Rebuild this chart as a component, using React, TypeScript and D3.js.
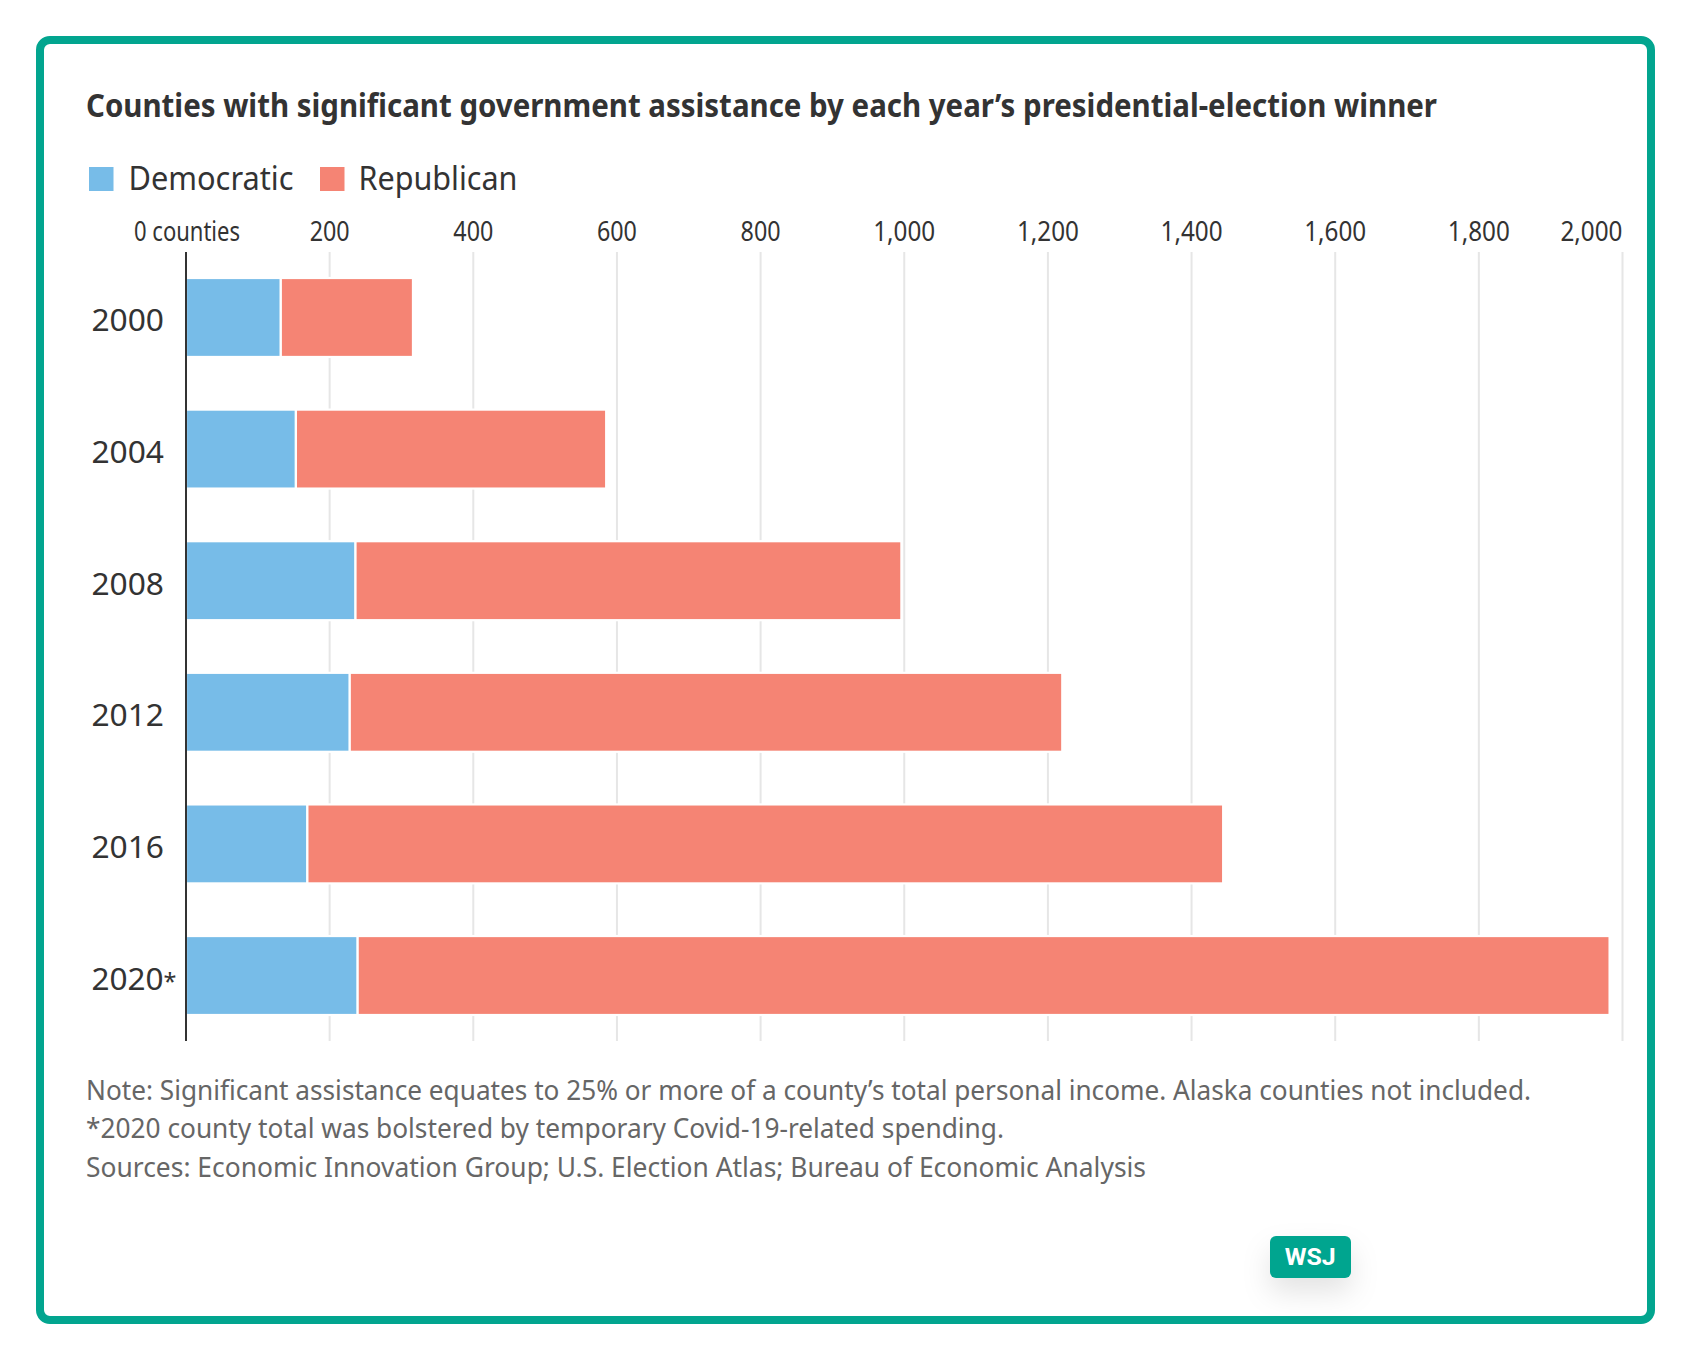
import React from "react";
import * as d3 from "d3";

const years = ["2000", "2004", "2008", "2012", "2016", "2020*"];
const democratic = [132, 153, 236, 228, 169, 239];
const republican = [184, 432, 760, 992, 1275, 1743];
const tickValues = [0, 200, 400, 600, 800, 1000, 1200, 1400, 1600, 1800, 2000];
const seriesNames = ["Democratic", "Republican"];
const seriesColors = ["#77BCE8", "#F58474"];
const titleText = "Counties with significant government assistance by each year\u2019s presidential-election winner";
const noteLines = [
  "Note: Significant assistance equates to 25% or more of a county\u2019s total personal income. Alaska counties not included.",
  "*2020 county total was bolstered by temporary Covid-19-related spending.",
  "Sources: Economic Innovation Group; U.S. Election Atlas; Bureau of Economic Analysis",
];
const noteWidths = [1445, 918, 1060];
const noteBaselines = [1100, 1138, 1177];

const FONT = "'Noto Sans', sans-serif";
const rows = years.map((y, i) => ({ year: y, Democratic: democratic[i], Republican: republican[i] }));

export default function App() {
  const x = d3.scaleLinear().domain([0, 2000]).range([186, 1622.5]);
  const y = d3.scaleBand().domain(years).range([278, 1015]).paddingInner(0.4);
  const stack = d3.stack().keys(seriesNames)(rows as any);
  const fmt = d3.format(",");
  const tickLabel = (v: number) => (v === 0 ? "0 counties" : fmt(v));

  return (
    <svg
      width={1691}
      height={1360}
      viewBox="0 0 1691 1360"
      style={{ position: "absolute", left: 0, top: 0, background: "#fff" }}
      fontFamily={FONT}
    >
      <defs>
        <filter id="badgeShadow" x="-80%" y="-80%" width="260%" height="400%">
          <feDropShadow dx="0" dy="14" stdDeviation="14" floodColor="#000" floodOpacity="0.11" />
        </filter>
      </defs>
      <rect x={40} y={40} width={1611} height={1280} rx={10} fill="#fff" stroke="#02A58F" strokeWidth={8} />

      <text x={86} y={117} fontSize={33} fontWeight={700} fill="#333" textLength={1351} lengthAdjust="spacingAndGlyphs">
        {titleText}
      </text>

      {seriesNames.map((name, i) => {
        const sx = [89, 320][i];
        const tx = [128.5, 358.5][i];
        const tw = [165, 159][i];
        return (
          <g key={name}>
            <rect x={sx} y={167} width={24.5} height={24} fill={seriesColors[i]} />
            <text x={tx} y={190} fontSize={32} fill="#333" textLength={tw} lengthAdjust="spacingAndGlyphs">
              {name}
            </text>
          </g>
        );
      })}

      {tickValues.map((v) => (
        <g key={v}>
          {v !== 0 && <line x1={x(v)} x2={x(v)} y1={252} y2={1041} stroke="#e6e6e6" strokeWidth={2} />}
          <text
            x={v === 2000 ? x(v) : x(v) + (v === 0 ? 1 : 0)}
            y={241}
            fontSize={28}
            fill="#333"
            textAnchor={v === 2000 ? "end" : "middle"}
            textLength={v === 0 ? 106 : v >= 1000 ? 62 : 40}
            lengthAdjust="spacingAndGlyphs"
          >
            {tickLabel(v)}
          </text>
        </g>
      ))}

      {stack.map((s: any, i: number) => (
        <g key={s.key}>
          {s.map((d: any) => (
            <rect
              key={d.data.year}
              x={x(d[0])}
              y={y(d.data.year)}
              width={x(d[1]) - x(d[0])}
              height={y.bandwidth()}
              fill={seriesColors[i]}
              stroke="#fff"
              strokeWidth={2.2}
            />
          ))}
        </g>
      ))}

      <line x1={x(0)} x2={x(0)} y1={252} y2={1041} stroke="#333" strokeWidth={2} />

      {years.map((yr) => (
        <text
          key={yr}
          x={91.5}
          y={(y(yr) as number) + y.bandwidth() / 2 + 14}
          fontSize={31}
          fill="#333"
          textLength={yr.length > 4 ? 85 : 72.5}
          lengthAdjust="spacingAndGlyphs"
        >
          {yr.replace("*", "")}
          {yr.includes("*") && <tspan fontSize={23}>*</tspan>}
        </text>
      ))}

      {noteLines.map((line, i) => (
        <text
          key={i}
          x={86}
          y={noteBaselines[i]}
          fontSize={27}
          fill="#666"
          textLength={noteWidths[i]}
          lengthAdjust="spacingAndGlyphs"
        >
          {line}
        </text>
      ))}

      <rect x={1270} y={1236} width={81} height={42} rx={6} fill="#02A58F" filter="url(#badgeShadow)" />
      <text x={1284.7} y={1265} fontFamily="Roboto, sans-serif" fontSize={24} fontWeight={700} fill="#fff" textLength={51} lengthAdjust="spacingAndGlyphs">
        WSJ
      </text>
    </svg>
  );
}
